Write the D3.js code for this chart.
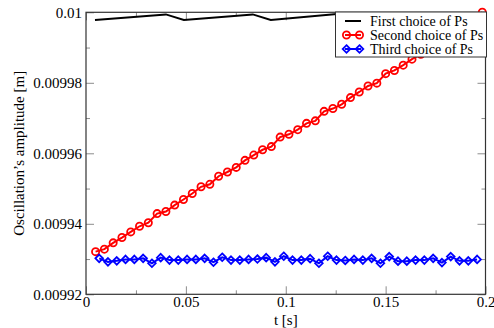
<!DOCTYPE html>
<html><head><meta charset="utf-8">
<script src="https://cdn.jsdelivr.net/npm/d3@7"></script>
<style>body{margin:0;background:#fff}svg{display:block}text{font-family:"Liberation Serif","Times New Roman",serif;fill:#000}</style>
</head><body><svg id="c" width="494" height="328"></svg>
<script>
// ---- data ----
const seriesNames = ["First choice of Ps", "Second choice of Ps", "Third choice of Ps"];
const xTicks = [0, 0.05, 0.1, 0.15, 0.2];
const xTickLabels = ["0", "0.05", "0.1", "0.15", "0.2"];
const yTicks = [0.00992, 0.00994, 0.00996, 0.00998, 0.01];
const yTickLabels = ["0.00992", "0.00994", "0.00996", "0.00998", "0.01"];
const xMinor = [0.025, 0.075, 0.125, 0.175];
const yMinor = [0.00993, 0.00995, 0.00997, 0.00999];

const firstT = [0.0045, 0.040, 0.049, 0.0835, 0.0925, 0.127, 0.136, 0.1705, 0.1795, 0.2];
const firstV = [0.0099978, 0.0099994, 0.0099978, 0.0099994, 0.0099978, 0.0099996, 0.0099978, 0.0099996, 0.0099978, 0.0099996];

const secondT = [0.0048, 0.0092, 0.0136, 0.0180, 0.0224, 0.0268, 0.0312, 0.0356, 0.0400, 0.0444,
  0.0488, 0.0532, 0.0576, 0.0620, 0.0664, 0.0708, 0.0752, 0.0796, 0.0840, 0.0884,
  0.0928, 0.0972, 0.1016, 0.1060, 0.1104, 0.1148, 0.1192, 0.1236, 0.1280, 0.1324,
  0.1368, 0.1412, 0.1456, 0.1500, 0.1544, 0.1588, 0.1632, 0.1676, 0.1720, 0.1764,
  0.1808, 0.1852, 0.1896, 0.1940, 0.1984];
const secondV = [0.0099321, 0.0099328, 0.0099346, 0.0099361, 0.0099377, 0.0099393, 0.0099403, 0.0099429, 0.0099435, 0.0099453,
  0.0099469, 0.0099486, 0.0099505, 0.0099512, 0.0099535, 0.0099547, 0.0099560, 0.0099580, 0.0099595, 0.0099610,
  0.0099619, 0.0099646, 0.0099654, 0.0099667, 0.0099685, 0.0099692, 0.0099719, 0.0099727, 0.0099739, 0.0099758,
  0.0099774, 0.0099791, 0.0099799, 0.0099826, 0.0099835, 0.0099850, 0.0099867, 0.0099881, 0.0099898, 0.0099909,
  0.0099932, 0.0099943, 0.0099960, 0.0099977, 0.0100000];

const thirdT = [0.0066, 0.0110, 0.0154, 0.0198, 0.0242, 0.0286, 0.0330, 0.0374, 0.0418, 0.0462,
  0.0506, 0.0550, 0.0594, 0.0638, 0.0682, 0.0726, 0.0770, 0.0814, 0.0858, 0.0902,
  0.0946, 0.0990, 0.1034, 0.1078, 0.1122, 0.1166, 0.1210, 0.1254, 0.1298, 0.1342,
  0.1386, 0.1430, 0.1474, 0.1518, 0.1562, 0.1606, 0.1650, 0.1694, 0.1738, 0.1782,
  0.1826, 0.1870, 0.1914, 0.1958];
const thirdV = [0.0099302, 0.0099292, 0.0099295, 0.0099299, 0.0099299, 0.0099302, 0.0099288, 0.0099304, 0.0099297, 0.0099297,
  0.0099299, 0.0099299, 0.0099302, 0.0099291, 0.0099305, 0.0099297, 0.0099297, 0.0099299, 0.0099300, 0.0099304,
  0.0099292, 0.0099308, 0.0099297, 0.0099297, 0.0099301, 0.0099288, 0.0099308, 0.0099297, 0.0099296, 0.0099299,
  0.0099297, 0.0099302, 0.0099288, 0.0099307, 0.0099294, 0.0099294, 0.0099297, 0.0099297, 0.0099302, 0.0099290,
  0.0099307, 0.0099295, 0.0099295, 0.0099299];

// ---- layout ----
const L = 86, R = 485.5, T = 12.3, B = 294.3;
const svg = d3.select("#c");
const x = d3.scaleLinear().domain([0, 0.2]).range([L, R]);
const y = d3.scaleLinear().domain([0.00992, 0.01]).range([B, T]);
const tickCol = "#8c8c8c", frameCol = "#333";

function axis(gen, tr, vals, labels, size, pad) {
  const g = svg.append("g").attr("transform", tr)
    .call(gen.tickValues(vals).tickSize(size).tickPadding(pad)
      .tickFormat(labels ? (d, i) => labels[i] : () => ""));
  g.select(".domain").remove();
  g.selectAll(".tick line").attr("stroke", tickCol).attr("stroke-width", 1);
  g.selectAll(".tick text").attr("font-size", 15).attr("font-family", "Liberation Serif");
  return g;
}
// bottom
axis(d3.axisBottom(x), `translate(0,${B})`, xTicks, xTickLabels, -8, 2.5);
axis(d3.axisBottom(x), `translate(0,${B})`, xMinor, null, -4, 0);
// top
axis(d3.axisTop(x), `translate(0,${T})`, xTicks, null, -8, 0);
axis(d3.axisTop(x), `translate(0,${T})`, xMinor, null, -4, 0);
// left
axis(d3.axisLeft(y), `translate(${L},0)`, yTicks, yTickLabels, -8, 4);
axis(d3.axisLeft(y), `translate(${L},0)`, yMinor, null, -4, 0);
// right
axis(d3.axisRight(y), `translate(${R},0)`, yTicks, null, -8, 0);
axis(d3.axisRight(y), `translate(${R},0)`, yMinor, null, -4, 0);

svg.append("rect").attr("x", L).attr("y", T).attr("width", R - L).attr("height", B - T)
  .attr("fill", "none").attr("stroke", frameCol).attr("stroke-width", 1.2);

// titles
svg.append("text").attr("x", (L + R) / 2).attr("y", 324.5).attr("text-anchor", "middle")
  .attr("font-size", 15).text("t [s]");
svg.append("text").attr("transform", `translate(24,${(T + B) / 2}) rotate(-90)`)
  .attr("text-anchor", "middle").attr("font-size", 15).text("Oscillation’s amplitude [m]");

// series
const line = d3.line().x(d => x(d[0])).y(d => y(d[1]));
const s1 = firstT.map((t, i) => [t, firstV[i]]);
const s2 = secondT.map((t, i) => [t, secondV[i]]);
const s3 = thirdT.map((t, i) => [t, thirdV[i]]);

svg.append("path").datum(s1).attr("d", line).attr("fill", "none").attr("stroke", "#000").attr("stroke-width", 2);
svg.append("path").datum(s2).attr("d", line).attr("fill", "none").attr("stroke", "#ff0000").attr("stroke-width", 2);
svg.append("path").datum(s3).attr("d", line).attr("fill", "none").attr("stroke", "#0000ff").attr("stroke-width", 2);

const diamond = "M0,-3.8L3.8,0L0,3.8L-3.8,0Z";
svg.append("g").selectAll("circle").data(s2).join("circle")
  .attr("cx", d => x(d[0])).attr("cy", d => y(d[1])).attr("r", 3.6)
  .attr("fill", "none").attr("stroke", "#ff0000").attr("stroke-width", 1.8);
svg.append("g").selectAll("path").data(s3).join("path")
  .attr("transform", d => `translate(${x(d[0])},${y(d[1])})`).attr("d", diamond)
  .attr("fill", "none").attr("stroke", "#0000ff").attr("stroke-width", 1.8);

// legend
const lg = svg.append("g");
lg.append("rect").attr("x", 335.5).attr("y", 12).attr("width", 151).attr("height", 45)
  .attr("fill", "#fff").attr("stroke", frameCol).attr("stroke-width", 1);
const rowsY = [21, 35, 49];
const cols = ["#000", "#ff0000", "#0000ff"];
seriesNames.forEach((n, i) => {
  const cy = rowsY[i];
  lg.append("line").attr("x1", 345).attr("x2", 361).attr("y1", cy).attr("y2", cy)
    .attr("stroke", cols[i]).attr("stroke-width", 2);
  if (i === 1) {
    [346.5, 359.5].forEach(cx => lg.append("circle").attr("cx", cx).attr("cy", cy).attr("r", 3.6)
      .attr("fill", "none").attr("stroke", cols[i]).attr("stroke-width", 1.8));
  }
  if (i === 2) {
    [346.5, 359.5].forEach(cx => lg.append("path").attr("transform", `translate(${cx},${cy})`).attr("d", diamond)
      .attr("fill", "none").attr("stroke", cols[i]).attr("stroke-width", 1.8));
  }
  lg.append("text").attr("x", 370).attr("y", cy + 4.7).attr("font-size", 14).text(n);
});
</script></body></html>
